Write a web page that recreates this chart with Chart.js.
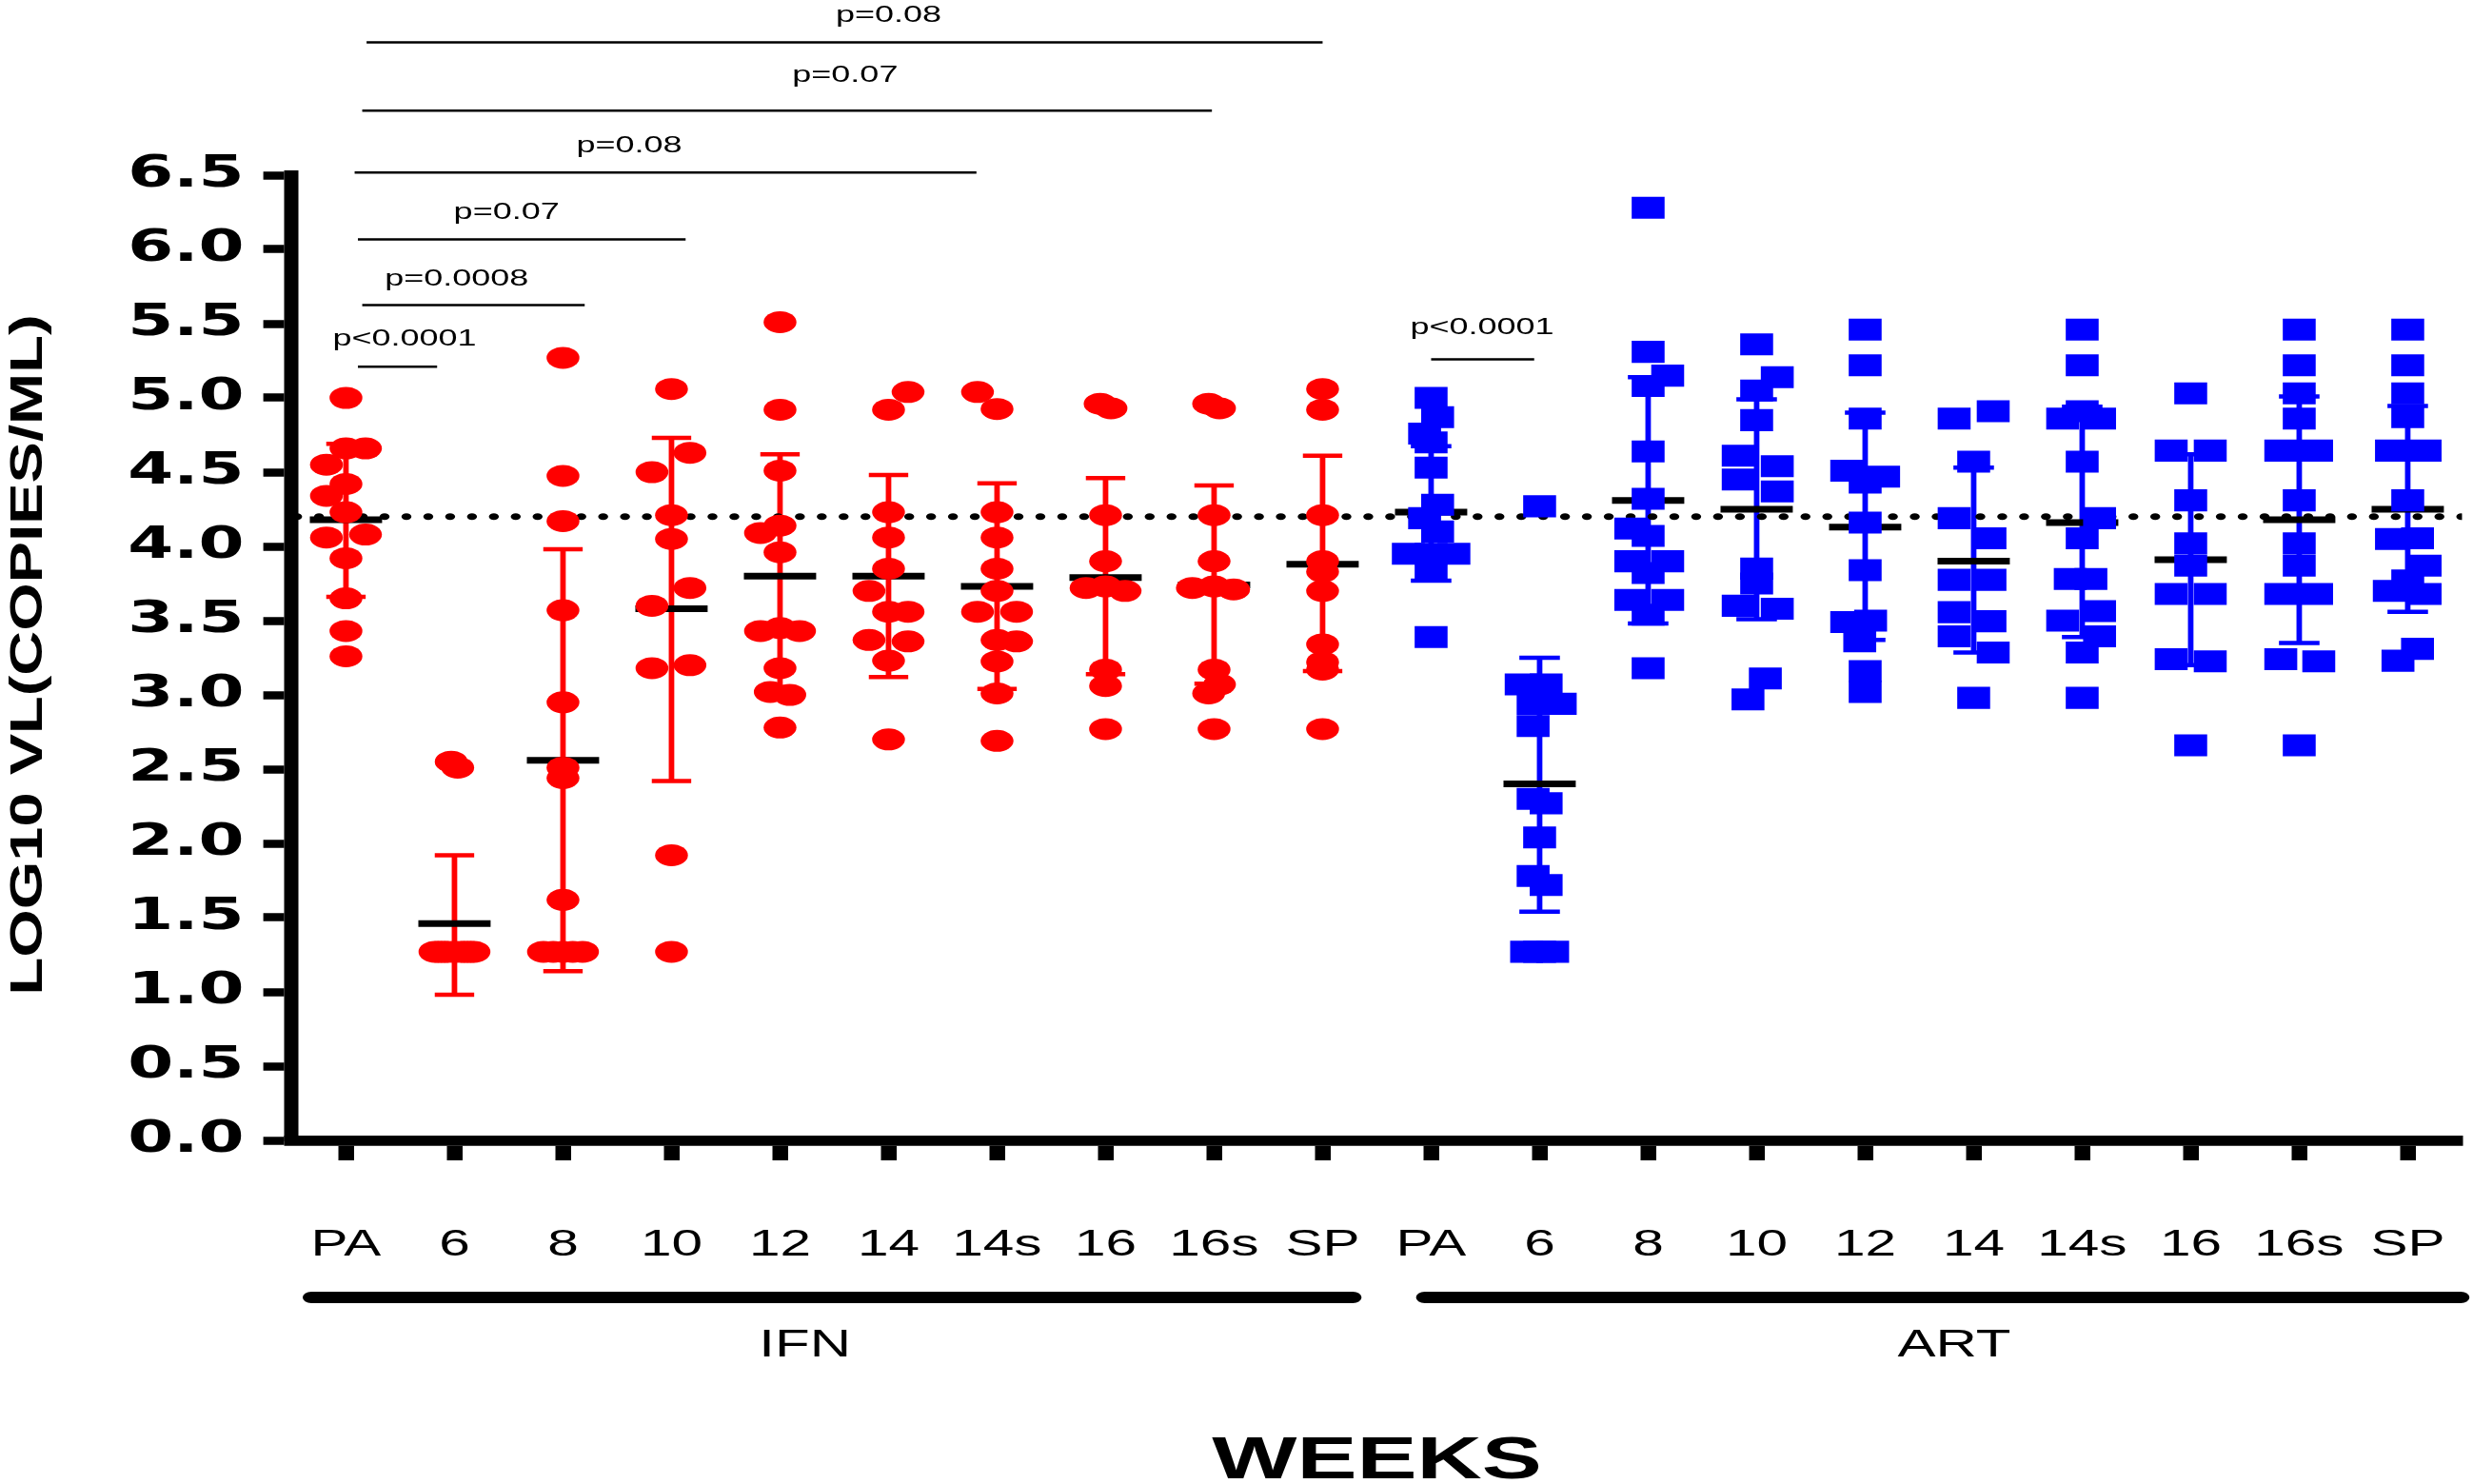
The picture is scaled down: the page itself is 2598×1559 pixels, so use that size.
<!DOCTYPE html>
<html>
<head>
<meta charset="utf-8">
<script src="https://cdn.jsdelivr.net/npm/chart.js@4.4.1/dist/chart.umd.min.js"></script>
<style>
html,body{margin:0;padding:0;background:#ffffff;overflow:hidden}
#c{display:block}
</style>
</head>
<body>
<canvas id="c" width="1732" height="1559"></canvas>
<script>
// ---------------- DATA ----------------
const weeks = ['PA', '6', '8', '10', '12', '14', '14s', '16', '16s', 'SP'];
const groupNames = ['IFN', 'ART'];
const yTickStep = 0.5;
const threshold = 4.2;

// IFN group: log10 VL per week (individual values)
const ifnValues = [
  [5.00, 4.66, 4.66, 4.55, 4.42, 4.34, 4.23, 4.06, 4.08, 3.92, 3.65, 3.43, 3.26],
  [2.55, 2.51, 1.27, 1.27, 1.27, 1.27, 1.27, 1.27, 1.27, 1.27, 1.27, 1.27, 1.27],
  [5.27, 4.475, 4.17, 3.57, 2.95, 2.51, 2.44, 1.62, 1.27, 1.27, 1.27, 1.27, 1.27],
  [5.06, 4.63, 4.50, 4.21, 4.05, 3.72, 3.60, 3.20, 3.18, 1.92, 1.27],
  [5.51, 4.92, 4.51, 4.14, 4.09, 3.96, 3.43, 3.45, 3.43, 3.18, 3.02, 3.00, 2.78],
  [5.04, 4.92, 4.23, 4.06, 3.85, 3.70, 3.56, 3.56, 3.37, 3.36, 3.23, 2.70],
  [5.04, 4.925, 4.23, 4.06, 3.85, 3.70, 3.56, 3.56, 3.37, 3.36, 3.225, 3.01, 2.69],
  [4.96, 4.93, 4.21, 3.90, 3.72, 3.73, 3.70, 3.17, 3.06, 2.77],
  [4.96, 4.93, 4.21, 3.90, 3.72, 3.73, 3.71, 3.17, 3.07, 3.01, 2.77],
  [5.06, 4.92, 4.21, 3.90, 3.83, 3.70, 3.34, 3.22, 3.17, 2.77]
];
// horizontal scatter of each IFN point (fraction of a week slot)
const ifnJitter = [
  [0, 0, 0.18, -0.18, 0, -0.18, 0, -0.18, 0.18, 0, 0, 0, 0],
  [-0.03, 0.03, -0.18, -0.12, -0.06, 0, 0.06, 0.12, 0.18, -0.15, -0.09, 0.09, 0.15],
  [0, 0, 0, 0, 0, 0, 0, 0, -0.18, -0.09, 0, 0.09, 0.18],
  [0, 0.17, -0.18, 0, 0, 0.17, -0.18, 0.17, -0.18, 0, 0],
  [0, 0, 0, 0, -0.18, 0, -0.18, 0, 0.18, 0, -0.09, 0.09, 0],
  [0.18, 0, 0, 0, 0, -0.18, 0, 0.18, -0.18, 0.18, 0, 0],
  [-0.18, 0, 0, 0, 0, 0, -0.18, 0.18, 0, 0.18, 0, 0, 0],
  [-0.05, 0.05, 0, 0, -0.18, 0, 0.18, 0, 0, 0],
  [-0.05, 0.05, 0, 0, -0.2, 0, 0.18, 0, 0.05, -0.05, 0],
  [0, 0, 0, 0, 0, 0, 0, 0, 0, 0]
];
const ifnMean  = [4.18, 1.46, 2.56, 3.58, 3.80, 3.80, 3.73, 3.79, 3.74, 3.88];
const ifnUpper = [4.69, 1.92, 3.98, 4.73, 4.62, 4.48, 4.425, 4.46, 4.41, 4.61];
const ifnLower = [3.66, 0.98, 1.14, 2.42, 2.99, 3.12, 3.04, 3.14, 3.075, 3.16];

// ART group
const artValues = [
  [5.00, 4.87, 4.76, 4.70, 4.53, 4.28, 4.19, 4.10, 3.95, 3.95, 3.95, 3.83, 3.39],
  [4.27, 3.07, 3.07, 2.94, 2.94, 2.79, 2.30, 2.27, 2.04, 1.78, 1.72, 1.27, 1.27, 1.27],
  [6.28, 5.31, 5.15, 5.08, 4.64, 4.32, 4.12, 4.07, 3.90, 3.90, 3.82, 3.64, 3.64, 3.54, 3.18],
  [5.36, 5.14, 5.05, 4.85, 4.61, 4.54, 4.45, 4.37, 3.85, 3.75, 3.60, 3.58, 3.11, 2.97],
  [5.46, 5.22, 4.86, 4.51, 4.47, 4.43, 4.16, 3.84, 3.49, 3.50, 3.36, 3.16, 3.02],
  [4.91, 4.86, 4.57, 4.19, 4.055, 3.775, 3.775, 3.557, 3.496, 3.394, 3.285, 2.98],
  [5.46, 5.22, 4.91, 4.86, 4.86, 4.57, 4.19, 4.055, 3.78, 3.78, 3.564, 3.50, 3.394, 3.285, 2.98],
  [5.03, 4.645, 4.645, 4.31, 4.02, 3.87, 3.68, 3.68, 3.24, 3.226, 2.66],
  [5.46, 5.22, 5.03, 4.86, 4.645, 4.645, 4.31, 4.02, 3.87, 3.68, 3.68, 3.24, 3.226, 2.66],
  [5.46, 5.22, 5.03, 4.87, 4.645, 4.645, 4.31, 4.05, 4.055, 3.87, 3.77, 3.70, 3.68, 3.31, 3.23]
];
const artJitter = [
  [0, 0.06, -0.06, 0, 0, 0.06, -0.06, 0.06, -0.21, 0, 0.21, 0, 0],
  [0, -0.17, 0.06, -0.06, 0.19, -0.06, -0.06, 0.06, 0, -0.06, 0.06, -0.12, 0, 0.12],
  [0, 0, 0.18, 0, 0, 0, -0.16, 0, -0.16, 0.18, 0, -0.16, 0.18, 0, 0],
  [0, 0.19, 0, 0, -0.17, 0.19, -0.17, 0.19, 0, 0, -0.17, 0.19, 0.08, -0.08],
  [0, 0, 0, -0.17, 0.17, 0, 0, 0, -0.17, 0.05, -0.05, 0, 0],
  [0.18, -0.18, 0, -0.18, 0.15, -0.18, 0.15, -0.18, 0.15, -0.18, 0.18, 0],
  [0, 0, 0, -0.18, 0.16, 0, 0.16, 0, -0.11, 0.08, 0.16, -0.18, 0.16, 0, 0],
  [0, -0.18, 0.18, 0, 0, 0, -0.18, 0.18, -0.18, 0.18, 0],
  [0, 0, 0, 0, -0.17, 0.16, 0, 0, 0, -0.17, 0.16, -0.17, 0.18, 0],
  [0, 0, 0, 0, -0.15, 0.16, 0, -0.15, 0.09, 0.16, 0, -0.17, 0.16, 0.09, -0.09]
];
const artMean  = [4.23, 2.40, 4.31, 4.25, 4.13, 3.90, 4.16, 3.91, 4.18, 4.25];
const artUpper = [4.675, 3.25, 5.14, 4.99, 4.90, 4.53, 4.94, 4.62, 5.01, 4.945];
const artLower = [3.77, 1.54, 3.48, 3.51, 3.37, 3.285, 3.39, 3.20, 3.35, 3.56];

// significance brackets (x in week slots, levels in log10 units)
const pLabels     = ['p<0.0001', 'p=0.0008', 'p=0.07', 'p=0.08', 'p=0.07', 'p=0.08', 'p<0.0001'];
const pFrom       = [0.11, 0.15, 0.11, 0.08, 0.15, 0.19, 10.0];
const pTo         = [0.84, 2.20, 3.13, 5.81, 7.98, 9.00, 10.95];
const pLevel      = [5.21, 5.625, 6.067, 6.518, 6.935, 7.394, 5.26];
const pTextX      = [0.54, 1.02, 1.48, 2.61, 4.60, 5.00, 10.47];
const pTextLevel  = [5.352, 5.756, 6.204, 6.653, 7.127, 7.531, 5.429];

// group underline spans and label positions (week slots)
const groupFrom  = [-0.32, 9.94];
const groupTo    = [9.28, 19.49];
const groupLabelX = [4.23, 14.82];

const tickLabels = weeks.concat(weeks);

// ---------------- STYLE ----------------
const STRETCH = 1.5;          // horizontal stretch of the original figure
const RED = '#ff0000';
const BLUE = '#0000ff';
const SANS = '"Liberation Sans", Arial, Helvetica, sans-serif';

function pointsOf(values, jitter, first) {
  return values.flatMap((list, c) => list.map((v, k) => ({ x: first + c + jitter[c][k], y: v })));
}
function atWeeks(arr, first) {
  return arr.map((v, c) => ({ x: first + c, y: v }));
}
function barsOf(lo, hi, first) {
  return hi.map((v, c) => ({ x: first + c, y: [lo[c], v] }));
}

const annotate = {
  id: 'annotate',
  afterDraw(chart) {
    const { ctx } = chart;
    const xs = chart.scales.x, ys = chart.scales.y;
    ctx.save();
    // significance brackets
    ctx.strokeStyle = '#000';
    ctx.fillStyle = '#000';
    ctx.lineWidth = 2.5;
    ctx.font = '24px ' + SANS;
    ctx.textAlign = 'center';
    ctx.textBaseline = 'alphabetic';
    pLabels.forEach((t, i) => {
      const yy = ys.getPixelForValue(pLevel[i]);
      ctx.beginPath();
      ctx.moveTo(xs.getPixelForValue(pFrom[i]), yy);
      ctx.lineTo(xs.getPixelForValue(pTo[i]), yy);
      ctx.stroke();
      ctx.fillText(t, xs.getPixelForValue(pTextX[i]), ys.getPixelForValue(pTextLevel[i]));
    });
    // group underlines and names
    ctx.lineWidth = 12;
    ctx.lineCap = 'round';
    ctx.font = '40px ' + SANS;
    groupNames.forEach((g, i) => {
      ctx.beginPath();
      ctx.moveTo(xs.getPixelForValue(groupFrom[i]), 1363);
      ctx.lineTo(xs.getPixelForValue(groupTo[i]), 1363);
      ctx.stroke();
      ctx.fillText(g, xs.getPixelForValue(groupLabelX[i]), 1425);
    });
    // y axis title (condensed, rotated)
    ctx.translate(20.5, 688);
    ctx.rotate(-Math.PI / 2);
    ctx.scale(1, 0.5);
    ctx.font = 'bold 65px ' + SANS;
    ctx.textAlign = 'center';
    ctx.textBaseline = 'middle';
    ctx.fillText('LOG10 VL(COPIES/ML)', 0, 0);
    ctx.restore();
  }
};

const datasets = [
  { type: 'scatter', label: 'IFN', data: pointsOf(ifnValues, ifnJitter, 0),
    pointStyle: 'circle', pointRadius: 11.5, pointHoverRadius: 11.5,
    pointBackgroundColor: RED, pointBorderWidth: 0, order: 0 },
  { type: 'scatter', label: 'ART', data: pointsOf(artValues, artJitter, 10),
    pointStyle: 'rect', pointRadius: 16.3, pointHoverRadius: 16.3,
    pointBackgroundColor: BLUE, pointBorderWidth: 0, order: 0 },
  { type: 'scatter', label: 'mean', data: atWeeks(ifnMean, 0).concat(atWeeks(artMean, 10)),
    pointStyle: 'line', pointRadius: 25.3, pointHoverRadius: 25.3,
    pointBackgroundColor: 'rgba(0,0,0,0)', pointBorderColor: '#000', pointBorderWidth: 7, order: 1 },
  { type: 'line', label: 'threshold', data: [{ x: -0.45, y: threshold }, { x: 19.5, y: threshold }],
    borderColor: '#000', borderWidth: 7, borderDash: [0.01, 15.3], borderCapStyle: 'round',
    pointRadius: 0, fill: false, order: 2 },
  { type: 'scatter', label: 'IFN SD caps', data: atWeeks(ifnUpper, 0).concat(atWeeks(ifnLower, 0)),
    pointStyle: 'line', pointRadius: 13.8, pointHoverRadius: 13.8,
    pointBackgroundColor: 'rgba(0,0,0,0)', pointBorderColor: RED, pointBorderWidth: 4.5, order: 3 },
  { type: 'scatter', label: 'ART SD caps', data: atWeeks(artUpper, 10).concat(atWeeks(artLower, 10)),
    pointStyle: 'line', pointRadius: 14.2, pointHoverRadius: 14.2,
    pointBackgroundColor: 'rgba(0,0,0,0)', pointBorderColor: BLUE, pointBorderWidth: 4.5, order: 3 },
  { type: 'bar', label: 'IFN SD', data: barsOf(ifnLower, ifnUpper, 0),
    backgroundColor: RED, borderWidth: 0, barThickness: 3.2, grouped: false, order: 4 },
  { type: 'bar', label: 'ART SD', data: barsOf(artLower, artUpper, 10),
    backgroundColor: BLUE, borderWidth: 0, barThickness: 3.2, grouped: false, order: 4 }
];

const config = {
  type: 'scatter',
  data: { datasets },
  options: {
    responsive: false,
    animation: false,
    devicePixelRatio: 1,
    events: [],
    layout: { autoPadding: false, padding: { left: 0, top: 184, right: 7.7, bottom: 0 } },
    plugins: { legend: { display: false }, tooltip: { enabled: false } },
    scales: {
      x: {
        type: 'linear', min: -0.5, max: 19.5, offset: false,
        afterBuildTicks: (s) => { s.ticks = tickLabels.map((_, i) => ({ value: i })); },
        afterFit: (s) => { s.height = 361; s.paddingLeft = 0; s.paddingRight = 0; },
        grid: { display: true, drawOnChartArea: false, drawTicks: true, offset: false,
                tickLength: 21, tickWidth: 11, tickColor: '#000' },
        border: { display: true, color: '#000', width: 10.7 },
        ticks: { autoSkip: false, maxRotation: 0, minRotation: 0, padding: 66, color: '#000',
                 font: { family: SANS, size: 39 },
                 callback: (v) => tickLabels[v] !== undefined ? tickLabels[v] : '' },
        title: { display: true, text: 'WEEKS', color: '#000',
                 font: { family: SANS, size: 63, weight: 'bold', lineHeight: 1 },
                 padding: { top: 0, bottom: -8 } }
      },
      y: {
        type: 'linear', min: 0, max: 6.5,
        afterFit: (s) => { s.width = 204.3; s.paddingTop = 0; s.paddingBottom = 0; },
        grid: { display: true, drawOnChartArea: false, drawTicks: true,
                tickLength: 19.9, tickWidth: 8.5, tickColor: '#000' },
        border: { display: true, color: '#000', width: 10 },
        ticks: { stepSize: yTickStep, autoSkip: false, padding: 13.4, color: '#000',
                 font: { family: '"DejaVu Sans", Verdana, sans-serif', size: 46, weight: 'bold' },
                 callback: (v) => Number(v).toFixed(1) },
        title: { display: false }
      }
    }
  },
  plugins: [annotate]
};

const canvas = document.getElementById('c');
const chart = new Chart(canvas, config);
// stretch the drawing horizontally like the original figure
canvas.width = Math.round(1732 * STRETCH);
canvas.height = 1559;
canvas.style.width = canvas.width + 'px';
canvas.style.height = '1559px';
chart.ctx.setTransform(STRETCH, 0, 0, 1, 0, 0);
chart.draw();
</script>
</body>
</html>
